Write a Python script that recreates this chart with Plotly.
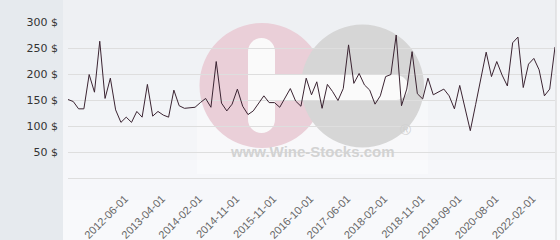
import plotly.graph_objects as go

prices = [151, 147, 133, 133, 199, 165, 263, 153, 192, 131,
          107, 117, 107, 128, 117, 180, 119, 128, 121, 117,
          169, 139, 134, 135, 136, 145, 153, 136, 224, 144,
          129, 142, 171, 138, 122, 129, 143, 158, 145, 145,
          136, 153, 172, 148, 138, 192, 160, 185, 134, 180,
          166, 149, 172, 256, 182, 201, 179, 169, 142, 158,
          195, 199, 275, 139, 171, 243, 162, 152, 192, 160,
          165, 171, 158, 133, 178, 135, 91, 141, 192, 242,
          195, 224, 198, 177, 260, 271, 174, 219, 230, 208,
          158, 171, 252]
point_index = list(range(len(prices)))

tick_index = [10, 17, 24, 31, 38, 45, 52, 59, 66, 73, 80, 87]
tick_labels = ["2012-06-01", "2013-04-01", "2014-02-01", "2014-11-01",
               "2015-11-01", "2016-10-01", "2017-06-01", "2018-02-01",
               "2018-11-01", "2019-09-01", "2020-08-01", "2022-02-01"]

y_ticks = [50, 100, 150, 200, 250, 300]
y_labels = [f"{v} $" for v in y_ticks]

W, H = 560, 240
L, R, T, B = 68, 5, 22, 62
PW = W - L - R
PH = H - T - B


def px(x):
    return (x - L) / PW


def py(y):
    return (H - B - y) / PH


shapes = []


def rect(x0, y0, x1, y1, color, layer="below", opacity=1.0):
    shapes.append(dict(type="rect", xref="paper", yref="paper",
                       x0=px(x0), x1=px(x1), y0=py(y1), y1=py(y0),
                       fillcolor=color, line=dict(width=0), layer=layer,
                       opacity=opacity))


def circle(cx, cy, r, color, layer="below", opacity=1.0):
    shapes.append(dict(type="circle", xref="paper", yref="paper",
                       x0=px(cx - r), x1=px(cx + r), y0=py(cy + r), y1=py(cy - r),
                       fillcolor=color, line=dict(width=0), layer=layer,
                       opacity=opacity))


# background gradient bands
bands = ["#eef0f3", "#f0f2f5", "#f2f4f7", "#f4f5f8", "#f6f7fa", "#f8f9fb"]
bh = H / len(bands)
for i, c in enumerate(bands):
    rect(63, i * bh, 556, (i + 1) * bh + 0.5, c)
# left strip
rect(0, 0, 63, H, "#e6eaee")
# right border
shapes.append(dict(type="line", xref="paper", yref="paper",
                   x0=px(556), x1=px(556), y0=py(H), y1=py(0),
                   line=dict(color="#d4d4d4", width=1), layer="below"))

# watermark
rect(197, 100, 428, 174, "#ffffff", opacity=0.35)
circle(262, 85.5, 62.5, "#eacfd8")
rect(248, 51.5, 275, 119.5, "#fafafa")
circle(261.5, 51.5, 13.5, "#fafafa")
circle(261.5, 119.5, 13.5, "#fafafa")
circle(362.5, 86, 61.5, "#d6d6d6")
rect(275, 75, 396, 100, "#fafafa")
circle(396, 87.5, 12.5, "#fafafa")

annotations = [
    dict(text="<b>www.Wine-Stocks.com</b>", xref="paper", yref="paper",
         x=px(312), y=py(161.5), showarrow=False,
         font=dict(family="Liberation Sans, Arial", size=15, color="#d2d2d2")),
    dict(text="®", xref="paper", yref="paper",
         x=px(413), y=py(140), showarrow=False,
         font=dict(family="Liberation Sans, Arial", size=15, color="#d0d0d0")),
]

fig = go.Figure()
fig.add_trace(go.Scatter(x=point_index, y=prices, mode="lines",
                         line=dict(color="#3b2432", width=1),
                         hoverinfo="skip"))

fig.update_layout(
    width=W, height=H,
    margin=dict(l=L, r=R, t=T, b=B, pad=0),
    paper_bgcolor="#f8f9fb",
    plot_bgcolor="rgba(0,0,0,0)",
    showlegend=False,
    shapes=shapes,
    annotations=annotations,
    xaxis=dict(range=[0, len(prices) - 1], tickmode="array",
               tickvals=tick_index, ticktext=tick_labels, tickangle=-45,
               showgrid=False, zeroline=False, showline=True,
               linecolor="#dedede", linewidth=1, ticks="",
               automargin=False,
               ticklabelstandoff=9, ticklabelshift=4,
               tickfont=dict(family="Liberation Sans, Arial", size=11, color="#666666")),
    yaxis=dict(range=[0, 300], tickmode="array", tickvals=y_ticks,
               ticktext=y_labels, showgrid=True, gridcolor="#dedede",
               gridwidth=1, zeroline=False, showline=False, ticks="",
               automargin=False,
               ticklabelstandoff=9,
               tickfont=dict(family="DejaVu Sans", size=11, color="#333333")),
)

fig.write_html("out.html")
